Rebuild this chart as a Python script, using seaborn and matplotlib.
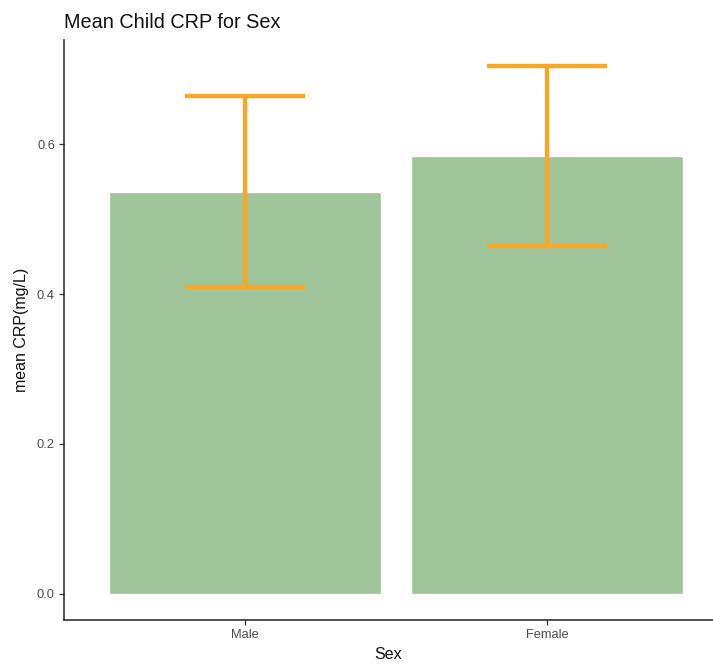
import matplotlib
matplotlib.use("Agg")
import matplotlib.pyplot as plt
import seaborn as sns
import pandas as pd

# Mean child CRP by sex with confidence limits
sexes = ["Male", "Female"]
mean_crp = [0.537, 0.584]
lower_ci = [0.410, 0.464]
upper_ci = [0.665, 0.704]
y_ticks = [0.0, 0.2, 0.4, 0.6]

df = pd.DataFrame({"Sex": sexes, "crp": mean_crp, "lo": lower_ci, "hi": upper_ci})

sns.set_style("white")
plt.rcParams["font.family"] = ["Liberation Sans", "DejaVu Sans"]

fig = plt.figure(figsize=(7.13, 6.65), dpi=100)
ax = fig.add_axes([0.0898, 0.0677, 0.9102, 0.872])

sns.barplot(data=df, x="Sex", y="crp", order=sexes, color="#a0c49a",
            saturation=1, width=0.9, errorbar=None, ax=ax)

xpos = list(range(len(sexes)))
ax.errorbar(xpos, df["crp"],
            yerr=[df["crp"] - df["lo"], df["hi"] - df["crp"]],
            fmt="none", ecolor="#f9a825", elinewidth=3.2, capsize=43,
            capthick=3.2, zorder=3)

ymax = max(upper_ci)
ax.set_ylim(-0.05 * ymax, ymax * 1.05)
ax.set_xlim(-0.6, 1.55)
ax.set_yticks(y_ticks)
ax.set_yticklabels([f"{t:.1f}" for t in y_ticks])

for s in ["top", "right"]:
    ax.spines[s].set_visible(False)
for s in ["left", "bottom"]:
    ax.spines[s].set_color("#222222")
    ax.spines[s].set_linewidth(1.1)

ax.tick_params(axis="both", which="major", length=3.5, width=0.9,
               color="#333333", labelsize=9.3, labelcolor="#4d4d4d", pad=3,
               bottom=True, left=True)

ax.set_xlabel("Sex", fontsize=11.5, color="#111111", labelpad=4)
ax.set_ylabel("mean CRP(mg/L)", fontsize=11.5, color="#111111", labelpad=6)
fig.text(0.0898, 0.958, "Mean Child CRP for Sex", fontsize=14.3,
         color="#111111", ha="left", va="baseline")

fig.savefig("out.png", dpi=100)
